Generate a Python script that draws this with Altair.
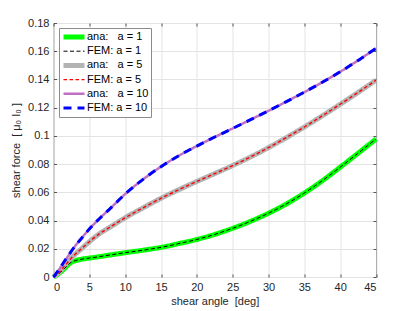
import altair as alt
import pandas as pd

# shear angle [deg]
angles = [0, 0.5, 1, 1.5, 2, 2.5, 3, 4, 5, 6.5, 8, 10, 12.5, 15, 17.5, 20,
          22.5, 25, 27.5, 30, 32.5, 35, 37.5, 40, 42.5, 45]

# shear force values
ana_a1 = [0, 0.0015, 0.0035, 0.0058, 0.0085, 0.0105, 0.0115, 0.0127, 0.0134,
          0.0145, 0.0157, 0.0172, 0.019, 0.021, 0.0237, 0.0266, 0.0302, 0.0345,
          0.0395, 0.0452, 0.0518, 0.0595, 0.0682, 0.0778, 0.0877, 0.0978]
fem_a1 = [0, 0.0015, 0.0035, 0.0058, 0.0085, 0.0105, 0.0115, 0.0127, 0.0134,
          0.0145, 0.0157, 0.0172, 0.019, 0.021, 0.0237, 0.0266, 0.0302, 0.0345,
          0.0395, 0.0452, 0.0518, 0.0595, 0.0682, 0.0778, 0.0877, 0.0978]
ana_a5 = [0, 0.002, 0.0045, 0.0075, 0.0105, 0.0135, 0.016, 0.0205, 0.025,
          0.031, 0.0357, 0.042, 0.049, 0.0558, 0.0619, 0.0677, 0.0733, 0.079,
          0.0851, 0.0917, 0.0988, 0.1063, 0.1142, 0.1224, 0.1308, 0.1395]
fem_a5 = [0, 0.002, 0.0045, 0.0075, 0.0105, 0.0135, 0.016, 0.0205, 0.025,
          0.031, 0.0357, 0.042, 0.049, 0.0558, 0.0619, 0.0677, 0.0733, 0.079,
          0.0851, 0.0917, 0.0988, 0.1063, 0.1142, 0.1224, 0.1308, 0.1395]
ana_a10 = [0, 0.0035, 0.007, 0.011, 0.0145, 0.0183, 0.0218, 0.028, 0.034,
           0.0418, 0.049, 0.0588, 0.0692, 0.0782, 0.086, 0.0928, 0.0992, 0.1053,
           0.1115, 0.1178, 0.1243, 0.131, 0.138, 0.1454, 0.1535, 0.162]
fem_a10 = [0, 0.0035, 0.007, 0.011, 0.0145, 0.0183, 0.0218, 0.028, 0.034,
           0.0418, 0.049, 0.0588, 0.0692, 0.0782, 0.086, 0.0928, 0.0992, 0.1053,
           0.1115, 0.1178, 0.1243, 0.131, 0.138, 0.1454, 0.1535, 0.162]

NB = "\u00a0"
series_names = [
    f"ana:{NB}{NB}{NB}a = 1",
    "FEM: a = 1",
    f"ana:{NB}{NB}{NB}a = 5",
    "FEM: a = 5",
    f"ana:{NB}{NB}{NB}a = 10",
    "FEM: a = 10",
]
series_values = [ana_a1, fem_a1, ana_a5, fem_a5, ana_a10, fem_a10]
series_kind = ["ana", "FEM", "ana", "FEM", "ana", "FEM"]

colors = ["#00ff00", "#000000", "#b3b3b3", "#ff0000", "#bf6fc4", "#0000ff"]
widths = [5, 1, 5, 1.4, 2.5, 3]
dashes = [[1, 0], [4, 2.5], [1, 0], [3.5, 2.5], [1, 0], [8, 6]]

x_ticks = [0, 5, 10, 15, 20, 25, 30, 35, 40, 45]
y_ticks = [0, 0.02, 0.04, 0.06, 0.08, 0.1, 0.12, 0.14, 0.16, 0.18]

rows = []
for name, vals, kind in zip(series_names, series_values, series_kind):
    for a, v in zip(angles, vals):
        rows.append({"angle": a, "force": v, "series": name, "kind": kind})
df = pd.DataFrame(rows)

FONT = "Liberation Sans"
TXT = "#262626"

xscale = alt.Scale(domain=[0, 45], nice=False, zero=False)
yscale = alt.Scale(domain=[0, 0.18], nice=False, zero=False)

legend = alt.Legend(
    title=None, orient="none", legendX=5.5, legendY=5,
    symbolType="stroke", symbolSize=441, clipHeight=14,
    padding=2, rowPadding=0.2, labelOffset=0,
    fillColor="white", strokeColor="#8c8c8c",
    labelFont=FONT, labelFontSize=11, labelColor="#000000",
    symbolOpacity=1,
)

color_enc = alt.Color("series:N", scale=alt.Scale(domain=series_names, range=colors), legend=legend)
dash_enc = alt.StrokeDash("series:N", scale=alt.Scale(domain=series_names, range=dashes), legend=legend)
width_enc = alt.StrokeWidth("series:N", scale=alt.Scale(type="ordinal", domain=series_names, range=widths), legend=legend)

x_main = alt.X(
    "angle:Q", scale=xscale,
    axis=alt.Axis(values=x_ticks, title=f"shear angle{NB}{NB}[deg]", grid=True,
                  gridColor="#e3e3e3", domain=False, tickSize=3, offset=-3,
                  tickColor="#555555", labelPadding=4, titlePadding=3,
                  labelFont=FONT, labelFontSize=11, labelColor=TXT,
                  titleFont=FONT, titleFontSize=11, titleFontWeight="normal",
                  titleColor=TXT, format="d"),
)
y_main = alt.Y(
    "force:Q", scale=yscale,
    axis=alt.Axis(values=y_ticks, title=f"shear force{NB}{NB}[ μ₀ I₀ ]", grid=True,
                  gridColor="#e3e3e3", domain=False, tickSize=3, offset=-3,
                  tickColor="#555555", labelPadding=4.5, titlePadding=6,
                  labelFont=FONT, labelFontSize=11, labelColor=TXT,
                  titleFont=FONT, titleFontSize=11, titleFontWeight="normal",
                  titleColor=TXT, labelExpr="datum.value == 0 ? '0' : format(datum.value, '.2~f')"),
)
x_top = alt.X(
    "angle:Q", scale=xscale,
    axis=alt.Axis(values=x_ticks, orient="top", title=None, labels=False, grid=False,
                  domain=False, tickSize=3, offset=-3, tickColor="#555555"),
)
y_right = alt.Y(
    "force:Q", scale=yscale,
    axis=alt.Axis(values=y_ticks, orient="right", title=None, labels=False, grid=False,
                  domain=False, tickSize=3, offset=-3, tickColor="#555555"),
)

ana = alt.Chart(df).transform_filter(alt.datum.kind == "ana").mark_line(
    strokeCap="butt", strokeJoin="round", interpolate="monotone"
).encode(
    x=x_main, y=y_main, color=color_enc, strokeDash=dash_enc, strokeWidth=width_enc,
    order="angle:Q",
)
fem = alt.Chart(df).transform_filter(alt.datum.kind == "FEM").mark_line(
    strokeCap="butt", strokeJoin="round", interpolate="monotone"
).encode(
    x=x_top, y=y_right, color=color_enc, strokeDash=dash_enc, strokeWidth=width_enc,
    order="angle:Q",
)

chart = alt.layer(ana, fem).resolve_axis(x="independent", y="independent").properties(
    width=322.5, height=254,
    autosize=alt.AutoSizeParams(type="none"),
    padding={"left": 45.5, "top": 15, "right": 30, "bottom": 34},
    background="white",
).configure_view(stroke="#7a7a7a", strokeWidth=1)

chart.save("out.html", embed_options={"renderer": "svg", "actions": False})
